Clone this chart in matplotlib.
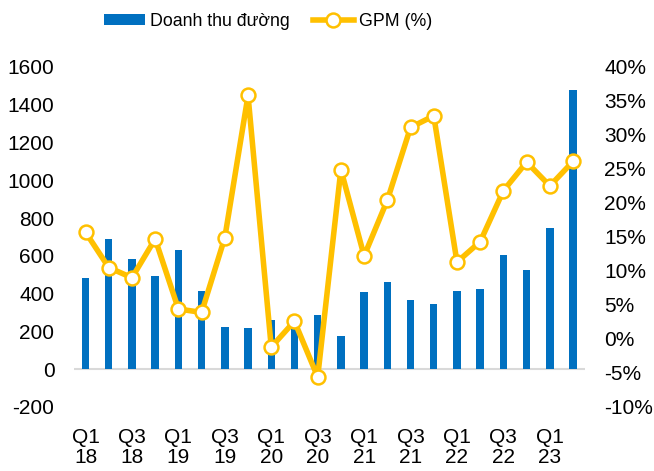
import matplotlib
matplotlib.use("Agg")
import matplotlib.pyplot as plt
from matplotlib.ticker import FuncFormatter
import numpy as np

plt.rcParams['font.family'] = ['Liberation Sans', 'DejaVu Sans']
plt.rcParams['axes.unicode_minus'] = False

quarters = ["Q1\n18", "Q2\n18", "Q3\n18", "Q4\n18",
            "Q1\n19", "Q2\n19", "Q3\n19", "Q4\n19",
            "Q1\n20", "Q2\n20", "Q3\n20", "Q4\n20",
            "Q1\n21", "Q2\n21", "Q3\n21", "Q4\n21",
            "Q1\n22", "Q2\n22", "Q3\n22", "Q4\n22",
            "Q1\n23", "Q2\n23"]
revenue = [482, 688, 581, 495, 632, 414, 222, 216, 262, 225, 285, 176,
           407, 460, 368, 345, 416, 426, 606, 525, 745, 1475]
gpm = [15.7, 10.5, 9.0, 14.7, 4.4, 3.9, 14.9, 35.8, -1.2, 2.6, -5.6, 24.9,
       12.2, 20.4, 31.1, 32.8, 11.3, 14.3, 21.8, 26.0, 22.5, 26.1]

left_ticks = [-200, 0, 200, 400, 600, 800, 1000, 1200, 1400, 1600]
right_ticks = [-10, -5, 0, 5, 10, 15, 20, 25, 30, 35, 40]

bar_color = "#0070C0"
line_color = "#FFC000"

fig = plt.figure(figsize=(6.54, 4.71), dpi=100)
ax = fig.add_axes([0.113, 0.136, 0.781, 0.722])
x = np.arange(len(quarters))

bars = ax.bar(x, revenue, width=0.32, color=bar_color, zorder=2,
              label="Doanh thu đường")
ax.axhline(0, color="#D9D9D9", linewidth=1.5, zorder=1)
ax.set_ylim(-200, 1600)
ax.set_yticks(left_ticks)
ax.set_xlim(-0.5, len(quarters) - 0.5)
ax.set_xticks(x[::2])
ax.set_xticklabels(quarters[::2], linespacing=1.1)
for s in ax.spines.values():
    s.set_visible(False)
ax.tick_params(axis='both', length=0, labelsize=15)
ax.tick_params(axis='x', pad=15)
ax.tick_params(axis='y', pad=14)

ax2 = ax.twinx()
line, = ax2.plot(x, gpm, color=line_color, linewidth=4, marker='o',
                 markersize=10, markerfacecolor='white',
                 markeredgecolor=line_color, markeredgewidth=1.8,
                 zorder=3, label="GPM (%)")
ax2.set_ylim(-10, 40)
ax2.set_yticks(right_ticks)
ax2.yaxis.set_major_formatter(FuncFormatter(lambda v, p: f"{int(v)}%"))
for s in ax2.spines.values():
    s.set_visible(False)
ax2.tick_params(axis='y', length=0, labelsize=15, pad=14)

fig.legend([bars, line], ["Doanh thu đường", "GPM (%)"],
           loc='upper center', bbox_to_anchor=(0.41, 1.007), ncol=2,
           frameon=False, fontsize=12.8, handlelength=2.3, handleheight=0.6,
           columnspacing=1.3, handletextpad=0.3)

fig.savefig("out.png", dpi=100)
